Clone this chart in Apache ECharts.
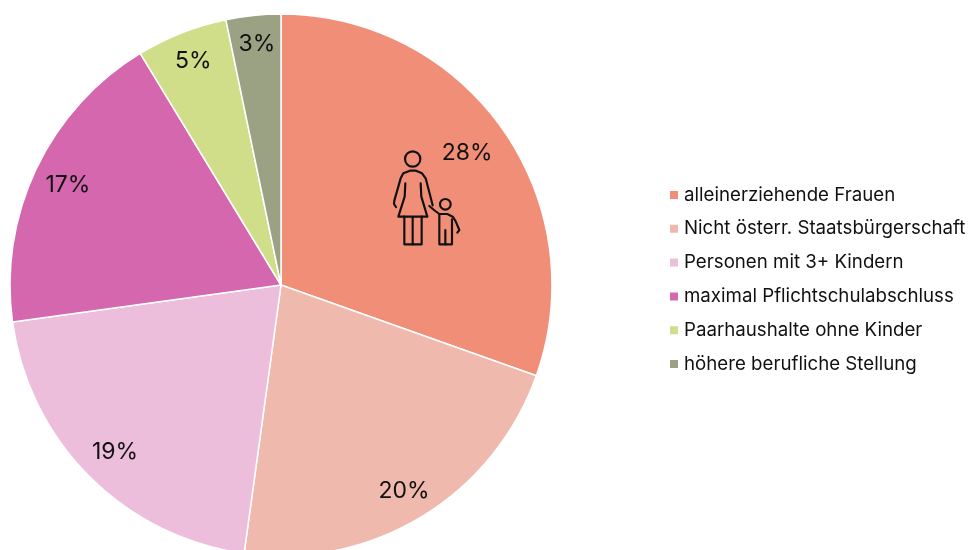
<!DOCTYPE html>
<html><head><meta charset="utf-8">
<style>html,body{margin:0;padding:0;background:#fff}#c{width:968px;height:550px}</style>
<script src="https://cdn.jsdelivr.net/npm/echarts@6/dist/echarts.min.js"></script>
</head><body><div id="c"></div>
<script>
const categories = ['alleinerziehende Frauen','Nicht österr. Staatsbürgerschaft','Personen mit 3+ Kindern','maximal Pflichtschulabschluss','Paarhaushalte ohne Kinder','höhere berufliche Stellung'];
const values = [28,20,19,17,5,3];
const colors = ['#F18E77','#EFB9AE','#EDBEDB','#D567AF','#D0DE8A','#9BA284'];
const labelShift = [[73,-52],[51,88],[-68,69],[-88,-40],[-37,-95],[-10,-103]];
const font = 'Inter';
const iconStyle = {fill:null,stroke:'#111',lineWidth:6.5,lineJoin:'round',lineCap:'round'};
const iconLines = [
 [[78,231],[72,222],[73,212],[92,145],[100,130],[120,122],[138,122],[156,130],[167,145],[188,226]],
 [[106,160],[104,200],[85,260],[172,260],[154,200],[152,160]],
 [[103,260],[103,343],[155,343],[155,260]],
 [[128,262],[128,343]],
 [[178,228],[192,240],[208,252],[232,252],[248,260],[256,272],[268,300],[262,308]],
 [[208,254],[208,343],[246,343],[246,268]],
 [[226,343],[226,300]]
];
const iconHeads = [[128,87,23],[226,223,16]];
const chart = echarts.init(document.getElementById('c'),null,{renderer:'canvas'});
chart.setOption({
  animation:false,
  color:colors,
  legend:{
    orient:'vertical',left:668,top:184,padding:0,itemWidth:10,itemHeight:10,itemGap:11.8,
    icon:'rect',selectedMode:false,
    data:categories,
    textStyle:{fontFamily:font,fontSize:18.7,color:'#111',lineHeight:22}
  },
  series:[{
    type:'pie',center:[281,285],radius:[0,271],startAngle:90,clockwise:true,
    avoidLabelOverlap:false,
    itemStyle:{borderColor:'#fff',borderWidth:1.5},
    label:{show:true,position:'inside',formatter:'{c}%',fontFamily:font,fontSize:23,color:'#111'},
    labelLine:{show:false},
    labelLayout:p=>({dx:labelShift[p.dataIndex][0],dy:labelShift[p.dataIndex][1]}),
    emphasis:{disabled:true},
    data:categories.map((n,i)=>({name:n,value:values[i]}))
  }],
  graphic:[{
    type:'group',x:370,y:130,scaleX:1/3,scaleY:1/3,silent:true,z:10,
    children:[
      ...iconLines.map(p=>({type:'polyline',shape:{points:p},style:iconStyle,z:10})),
      ...iconHeads.map(h=>({type:'circle',shape:{cx:h[0],cy:h[1],r:h[2]},style:iconStyle,z:10}))
    ]
  }]
});
</script></body></html>
